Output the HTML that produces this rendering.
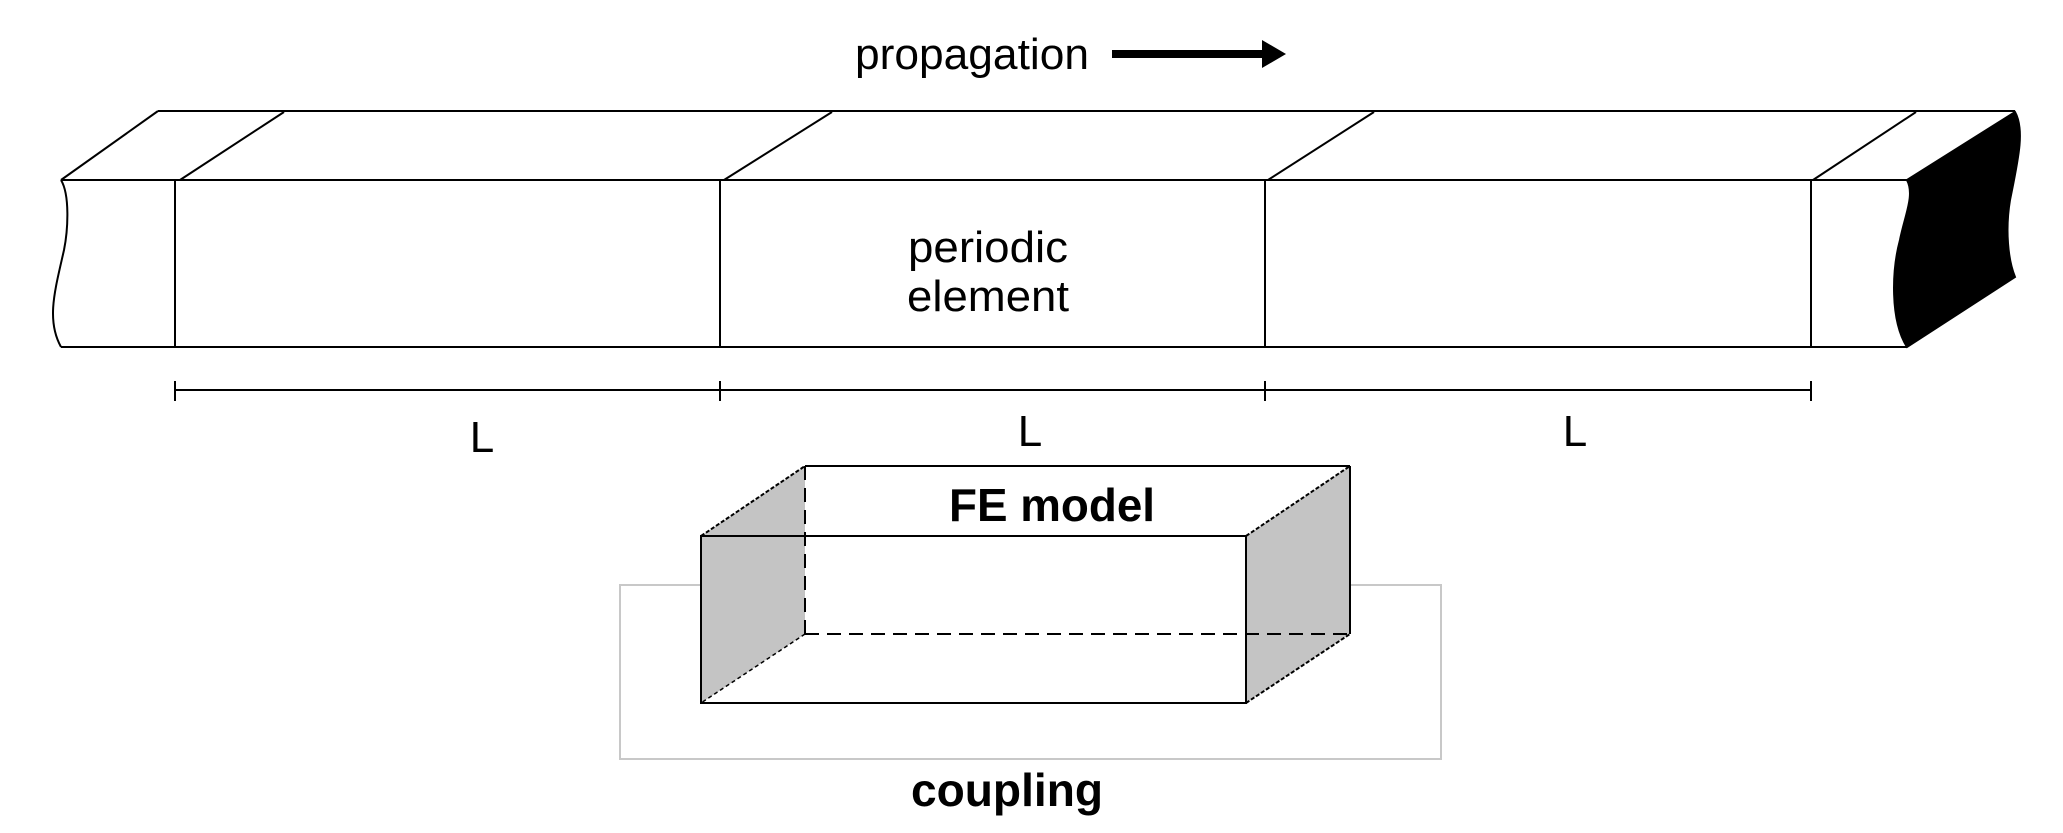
<!DOCTYPE html>
<html><head><meta charset="utf-8"><style>
html,body{margin:0;padding:0;background:#fff;}
svg{display:block;}
text{font-family:"Liberation Sans",Arial,sans-serif;}
</style></head><body>
<svg width="2063" height="833" viewBox="0 0 2063 833" xmlns="http://www.w3.org/2000/svg">
<rect width="2063" height="833" fill="#fff"/>
<!-- propagation -->
<text x="972" y="69" font-size="44" text-anchor="middle" textLength="234" lengthAdjust="spacingAndGlyphs">propagation</text>
<line x1="1112" y1="54" x2="1268" y2="54" stroke="#000" stroke-width="8"/>
<polygon points="1262,40 1286,54 1262,68" fill="#000"/>
<!-- bar -->
<g stroke="#000" stroke-width="2" fill="none">
<line x1="158" y1="111" x2="2015" y2="111"/>
<line x1="61" y1="180" x2="1907" y2="180"/>
<line x1="61" y1="347" x2="1907" y2="347"/>
<path d="M61,180 C70,195 68,230 64,250 C55,290 46,320 61,347"/>
<line x1="61" y1="180" x2="158" y2="111"/>
<line x1="175" y1="180" x2="175" y2="347"/>
<line x1="180" y1="180" x2="284" y2="112"/>
<line x1="720" y1="180" x2="720" y2="347"/>
<line x1="724" y1="180" x2="832" y2="112"/>
<line x1="1265" y1="180" x2="1265" y2="347"/>
<line x1="1268" y1="180" x2="1374" y2="112"/>
<line x1="1811" y1="180" x2="1811" y2="347"/>
<line x1="1813" y1="180" x2="1916" y2="112"/>
</g>
<path d="M1907,180 L2015,112 C2025,130 2018,160 2010,200 C2005,230 2008,260 2015,277 L1907,347 C1890,320 1892,270 1900,240 C1905,215 1915,195 1907,180 Z" fill="#000" stroke="#000" stroke-width="2"/>
<text x="988" y="262" font-size="44" text-anchor="middle" textLength="160" lengthAdjust="spacingAndGlyphs">periodic</text>
<text x="988" y="311" font-size="44" text-anchor="middle" textLength="162" lengthAdjust="spacingAndGlyphs">element</text>
<!-- dimension -->
<g stroke="#000" stroke-width="2">
<line x1="175" y1="390" x2="1811" y2="390"/>
<line x1="175" y1="381" x2="175" y2="401"/>
<line x1="720" y1="381" x2="720" y2="401"/>
<line x1="1265" y1="381" x2="1265" y2="401"/>
<line x1="1811" y1="381" x2="1811" y2="401"/>
</g>
<text x="482" y="452" font-size="44" text-anchor="middle">L</text>
<text x="1030" y="446" font-size="44" text-anchor="middle">L</text>
<text x="1575" y="446" font-size="44" text-anchor="middle">L</text>
<!-- coupling rect -->
<rect x="620" y="585" width="821" height="174" fill="none" stroke="#c8c8c8" stroke-width="2"/>
<!-- FE box -->
<polygon points="701,536 805,466 1350,466 1350,634 1246,703 701,703" fill="#fff"/>
<polygon points="701,536 805,466 805,634 701,703" fill="#c4c4c4"/>
<polygon points="1246,536 1350,466 1350,634 1246,703" fill="#c4c4c4"/>
<g stroke="#000" stroke-width="2" fill="none">
<rect x="701" y="536" width="545" height="167"/>
<line x1="805" y1="466" x2="1350" y2="466"/>
<line x1="701" y1="536" x2="805" y2="466" stroke-dasharray="4,2"/>
<line x1="1246" y1="536" x2="1350" y2="466" stroke-dasharray="4,2"/>
<line x1="1350" y1="466" x2="1350" y2="634"/>
<line x1="1246" y1="703" x2="1350" y2="634" stroke-dasharray="4,2"/>
<line x1="805" y1="466" x2="805" y2="634" stroke-dasharray="14,8"/>
<line x1="805" y1="634" x2="1350" y2="634" stroke-dasharray="14,8"/>
<line x1="805" y1="634" x2="701" y2="703" stroke-dasharray="4,3" stroke-width="1.5"/>
</g>
<text x="1052" y="521" font-size="46" font-weight="bold" text-anchor="middle" textLength="206" lengthAdjust="spacingAndGlyphs">FE model</text>
<text x="1007" y="806" font-size="46" font-weight="bold" text-anchor="middle" textLength="192" lengthAdjust="spacingAndGlyphs">coupling</text>
</svg>
</body></html>
